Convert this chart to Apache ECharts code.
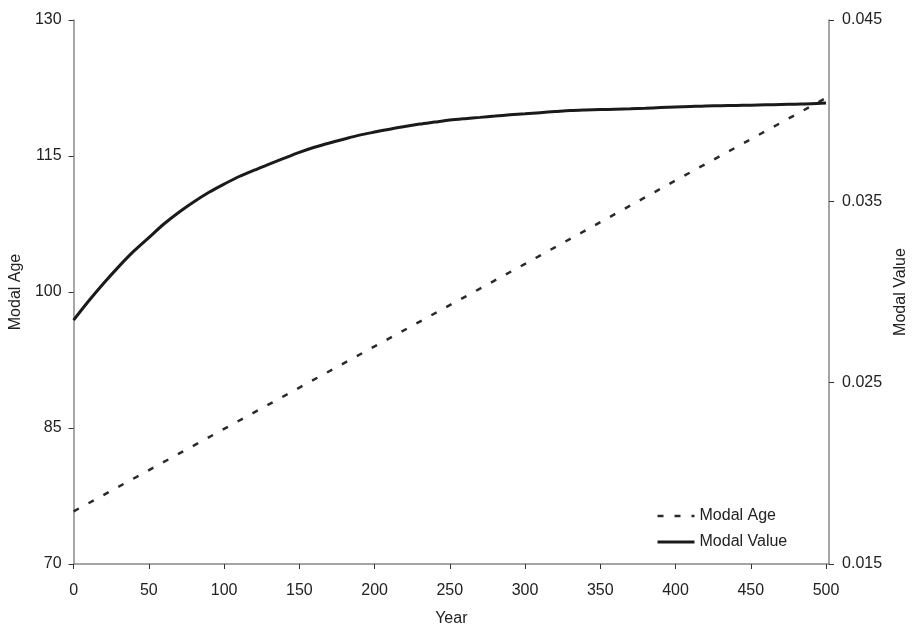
<!DOCTYPE html>
<html>
<head>
<meta charset="utf-8">
<script src="https://cdn.jsdelivr.net/npm/echarts@6/dist/echarts.min.js"></script>
<style>
  html, body { margin: 0; padding: 0; background: #fff; }
  #chart { width: 917px; height: 632px; }
</style>
</head>
<body>
<div id="chart"></div>
<script>
// values
const years = [0, 10, 20, 30, 40, 50, 60, 70, 80, 90, 100, 110, 120, 130, 140, 150, 160, 170, 180, 190,
  200, 210, 220, 230, 240, 250, 260, 270, 280, 290, 300, 310, 320, 330, 340, 350, 360, 370, 380, 390,
  400, 410, 420, 430, 440, 450, 460, 470, 480, 490, 500];
const modalValue = [0.02845, 0.0295, 0.03048, 0.0314, 0.03225, 0.0330, 0.03375, 0.0344, 0.03498, 0.0355,
  0.03595, 0.03637, 0.03672, 0.03705, 0.03738, 0.0377, 0.03798, 0.03822, 0.03844, 0.03865,
  0.03882, 0.03898, 0.03913, 0.03926, 0.03937, 0.03948, 0.03956, 0.03963, 0.0397, 0.03977,
  0.03983, 0.03989, 0.03995, 0.04001, 0.04004, 0.04006, 0.04008, 0.0401, 0.04013, 0.04017,
  0.0402, 0.04023, 0.04026, 0.04027, 0.04029, 0.0403, 0.04032, 0.04034, 0.04036, 0.04038, 0.04042];
const ageYears = [0, 100, 200, 300, 400, 500];
const modalAge = [75.8, 84.9, 94.0, 103.1, 112.3, 121.4];
const yearTicks = [0, 50, 100, 150, 200, 250, 300, 350, 400, 450, 500];
const leftTicks = [70, 85, 100, 115, 130];
const rightTicks = [0.015, 0.025, 0.035, 0.045];

const font = 'Liberation Sans, Arial, sans-serif';
const txt = '#222';

const chart = echarts.init(document.getElementById('chart'));

const option = {
  backgroundColor: '#fff',
  animation: false,
  textStyle: { fontFamily: font },
  grid: { left: 73, right: 80, top: 20, bottom: 61 },
  legend: {
    orient: 'vertical',
    left: 651,
    top: 503,
    itemWidth: 37,
    itemHeight: 14,
    itemGap: 10,
    // hide the dot that line legends get by default
    itemStyle: { color: 'rgba(0,0,0,0)', borderWidth: 0 },
    lineStyle: { width: 'inherit' },
    textStyle: { fontSize: 16, color: txt, fontFamily: font },
    data: ['Modal Age', 'Modal Value']
  },
  xAxis: {
    type: 'value',
    min: 0,
    max: 502,
    name: 'Year',
    nameLocation: 'middle',
    nameGap: 47,
    nameTextStyle: { fontSize: 16, color: txt },
    axisLine: { lineStyle: { color: '#888', width: 1.5 } },
    axisTick: { length: 5, customValues: yearTicks, lineStyle: { color: '#333' } },
    axisLabel: { fontSize: 16, color: txt, margin: 19, customValues: yearTicks },
    splitLine: { show: false }
  },
  yAxis: [
    {
      type: 'value',
      min: 70,
      max: 130,
      name: 'Modal Age',
      nameLocation: 'middle',
      nameGap: 42,
      nameTextStyle: { fontSize: 16, color: txt },
      axisLine: { show: true, lineStyle: { color: '#888', width: 1.5 } },
      axisTick: { show: true, length: 5, customValues: leftTicks, lineStyle: { color: '#333' } },
      axisLabel: { fontSize: 16, color: txt, margin: 12, customValues: leftTicks },
      splitLine: { show: false }
    },
    {
      type: 'value',
      min: 0.015,
      max: 0.045,
      position: 'right',
      name: 'Modal Value',
      nameLocation: 'middle',
      nameGap: 62,
      nameTextStyle: { fontSize: 16, color: txt },
      axisLine: { show: true, lineStyle: { color: '#888', width: 1.5 } },
      axisTick: { show: true, length: 5, customValues: rightTicks, lineStyle: { color: '#333' } },
      axisLabel: { fontSize: 16, color: txt, margin: 13, customValues: rightTicks },
      splitLine: { show: false }
    }
  ],
  series: [
    {
      name: 'Modal Age',
      type: 'line',
      yAxisIndex: 0,
      symbol: 'none',
      data: ageYears.map((y, i) => [y, modalAge[i]]),
      lineStyle: { color: '#2a2a2a', width: 2.5, type: [6, 11] }
    },
    {
      name: 'Modal Value',
      type: 'line',
      yAxisIndex: 1,
      symbol: 'none',
      smooth: 0.3,
      data: years.map((y, i) => [y, modalValue[i]]),
      lineStyle: { color: '#1a1a1a', width: 3 }
    }
  ]
};

chart.setOption(option);
</script>
</body>
</html>
